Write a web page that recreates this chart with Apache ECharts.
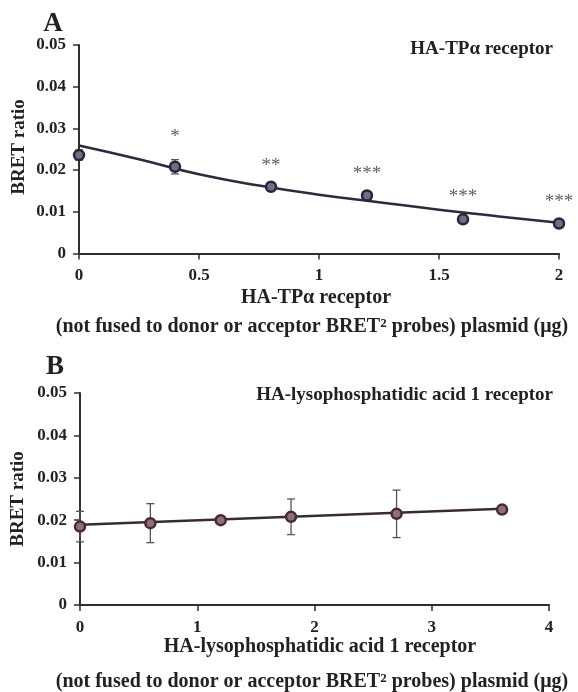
<!DOCTYPE html>
<html>
<head>
<meta charset="utf-8">
<script src="https://cdn.jsdelivr.net/npm/echarts@6/dist/echarts.min.js"></script>
<style>html,body{margin:0;padding:0;background:#fff;}#c{width:578px;height:692px;}</style>
</head>
<body>
<div id="c"></div>
<script>
// Panel A data
const xA = [0, 0.4, 0.8, 1.2, 1.6, 2.0];
const yA = [0.0236, 0.0208, 0.0160, 0.0139, 0.0082, 0.0072];
const errA = [0.0012, 0.0017, 0.0006, 0.0006, 0.0006, 0.0004];
const fitXA = [0, 0.25, 0.5, 0.75, 1, 1.25, 1.5, 1.75, 2];
const fitYA = [0.0259, 0.0226, 0.0190, 0.0163, 0.0141, 0.0123, 0.0105, 0.0089, 0.0074];
const starTextA = ['*', '**', '***', '***', '***'];
const starXA = [0.4, 0.8, 1.2, 1.6, 2.0];
const starYA = [0.0286, 0.0218, 0.0199, 0.0143, 0.0131];
const xTicksA = [0, 0.5, 1, 1.5, 2];
// Panel B data
const xB = [0, 0.6, 1.2, 1.8, 2.7, 3.6];
const yB = [0.0185, 0.0193, 0.0200, 0.0208, 0.0215, 0.0225];
const errB = [0.0036, 0.0046, 0.0006, 0.0042, 0.0056, 0.0004];
const fitXB = [0, 3.6];
const fitYB = [0.0189, 0.0227];
const xTicksB = [0, 1, 2, 3, 4];
const yTicks = [0, 0.01, 0.02, 0.03, 0.04, 0.05];

const FONT = '"Liberation Serif", "DejaVu Serif", serif';
const AX = '#2f2f2f';

function zip(a, b) { return a.map((v, i) => [v, b[i]]); }

function errSeries(xi, xs, ys, es, color) {
  return {
    type: 'custom', xAxisIndex: xi, yAxisIndex: xi, z: 3,
    data: xs.map((x, i) => [x, ys[i], es[i]]),
    renderItem: function (params, api) {
      const x = api.value(0), y = api.value(1), e = api.value(2);
      const t = api.coord([x, y + e]);
      const b = api.coord([x, y - e]);
      const c = 4;
      const st = { stroke: color, lineWidth: 1.3 };
      return { type: 'group', children: [
        { type: 'line', shape: { x1: t[0], y1: t[1], x2: b[0], y2: b[1] }, style: st },
        { type: 'line', shape: { x1: t[0] - c, y1: t[1], x2: t[0] + c, y2: t[1] }, style: st },
        { type: 'line', shape: { x1: b[0] - c, y1: b[1], x2: b[0] + c, y2: b[1] }, style: st }
      ]};
    }
  };
}

function axisX(gi, max, interval) {
  return {
    type: 'value', gridIndex: gi, min: 0, max: max, interval: interval,
    axisLine: { show: true, onZero: false, lineStyle: { color: AX, width: 2 } },
    axisTick: { show: true, inside: false, length: 6, lineStyle: { color: AX, width: 1.5 } },
    axisLabel: { color: '#222', fontFamily: FONT, fontWeight: 'bold', fontSize: 17, margin: 14 },
    splitLine: { show: false }
  };
}
function axisY(gi) {
  return {
    type: 'value', gridIndex: gi, min: yTicks[0], max: yTicks[yTicks.length - 1], interval: 0.01,
    axisLine: { show: true, lineStyle: { color: AX, width: 2 } },
    axisTick: { show: true, inside: false, length: 6, lineStyle: { color: AX, width: 1.5 } },
    axisLabel: { color: '#222', fontFamily: FONT, fontWeight: 'bold', fontSize: 17, margin: 13 },
    splitLine: { show: false }
  };
}

const chart = echarts.init(document.getElementById('c'), null, { renderer: 'canvas' });
const txt = (o) => Object.assign({ type: 'text', z: 10 }, o);
const ts = (text, size, extra) => Object.assign({ text: text, font: 'bold ' + size + 'px ' + FONT, fill: '#222', textAlign: 'center', textVerticalAlign: 'middle' }, extra || {});
const subLine = '(not fused to donor or acceptor BRET{sup|2} probes) plasmid (μg)';
const richSup = { rich: { sup: { fontSize: 13, fontWeight: 'bold', fontFamily: FONT, fill: '#222', verticalAlign: 'top', lineHeight: 20, padding: [0, 0, 8, 0] } } };

chart.setOption({
  animation: false,
  backgroundColor: '#fff',
  grid: [
    { left: 79, top: 45, right: 19, height: 208.5 },
    { left: 80, top: 393, right: 29, height: 212 }
  ],
  xAxis: [axisX(0, xTicksA[xTicksA.length - 1], 0.5), axisX(1, xTicksB[xTicksB.length - 1], 1)],
  yAxis: [axisY(0), axisY(1)],
  series: [
    errSeries(0, xA, yA, errA, '#555'),
    { type: 'line', xAxisIndex: 0, yAxisIndex: 0, data: zip(fitXA, fitYA), smooth: true, showSymbol: false,
      lineStyle: { color: '#2b2b3b', width: 2.5 }, z: 4 },
    { type: 'scatter', xAxisIndex: 0, yAxisIndex: 0, data: zip(xA, yA), symbol: 'circle', symbolSize: 10,
      itemStyle: { color: '#6e6e84', borderColor: '#26263a', borderWidth: 2.5, opacity: 1 }, z: 5 },
    { type: 'custom', xAxisIndex: 0, yAxisIndex: 0, z: 6,
      data: zip(starXA, starYA),
      renderItem: function (params, api) {
        const p = api.coord([api.value(0), api.value(1)]);
        return { type: 'text', x: p[0], y: p[1] + 3, style: { text: starTextA[params.dataIndex], font: '19px ' + FONT, fill: '#56655c', textAlign: 'center', textVerticalAlign: 'middle' } };
      } },
    errSeries(1, xB, yB, errB, '#555'),
    { type: 'line', xAxisIndex: 1, yAxisIndex: 1, data: zip(fitXB, fitYB), showSymbol: false,
      lineStyle: { color: '#3a2a32', width: 2.5 }, z: 4 },
    { type: 'scatter', xAxisIndex: 1, yAxisIndex: 1, data: zip(xB, yB), symbol: 'circle', symbolSize: 10,
      itemStyle: { color: '#8c7076', borderColor: '#452a36', borderWidth: 2.5, opacity: 1 }, z: 5 }
  ],
  graphic: [
    txt({ x: 53, y: 24, style: ts('A', 27) }),
    txt({ x: 553, y: 49, style: ts('HA-TPα receptor', 19, { textAlign: 'right' }) }),
    txt({ x: 19, y: 147, rotation: Math.PI / 2, style: ts('BRET ratio', 19) }),
    txt({ x: 316, y: 298, style: ts('HA-TPα receptor', 20) }),
    txt({ x: 312, y: 327, style: ts(subLine, 20, richSup) }),
    txt({ x: 55, y: 367, style: ts('B', 27) }),
    txt({ x: 553, y: 395, style: ts('HA-lysophosphatidic acid 1 receptor', 19, { textAlign: 'right' }) }),
    txt({ x: 18, y: 499, rotation: Math.PI / 2, style: ts('BRET ratio', 19) }),
    txt({ x: 320, y: 647, style: ts('HA-lysophosphatidic acid 1 receptor', 20) }),
    txt({ x: 312, y: 682, style: ts(subLine, 20, richSup) })
  ]
});
</script>
</body>
</html>
